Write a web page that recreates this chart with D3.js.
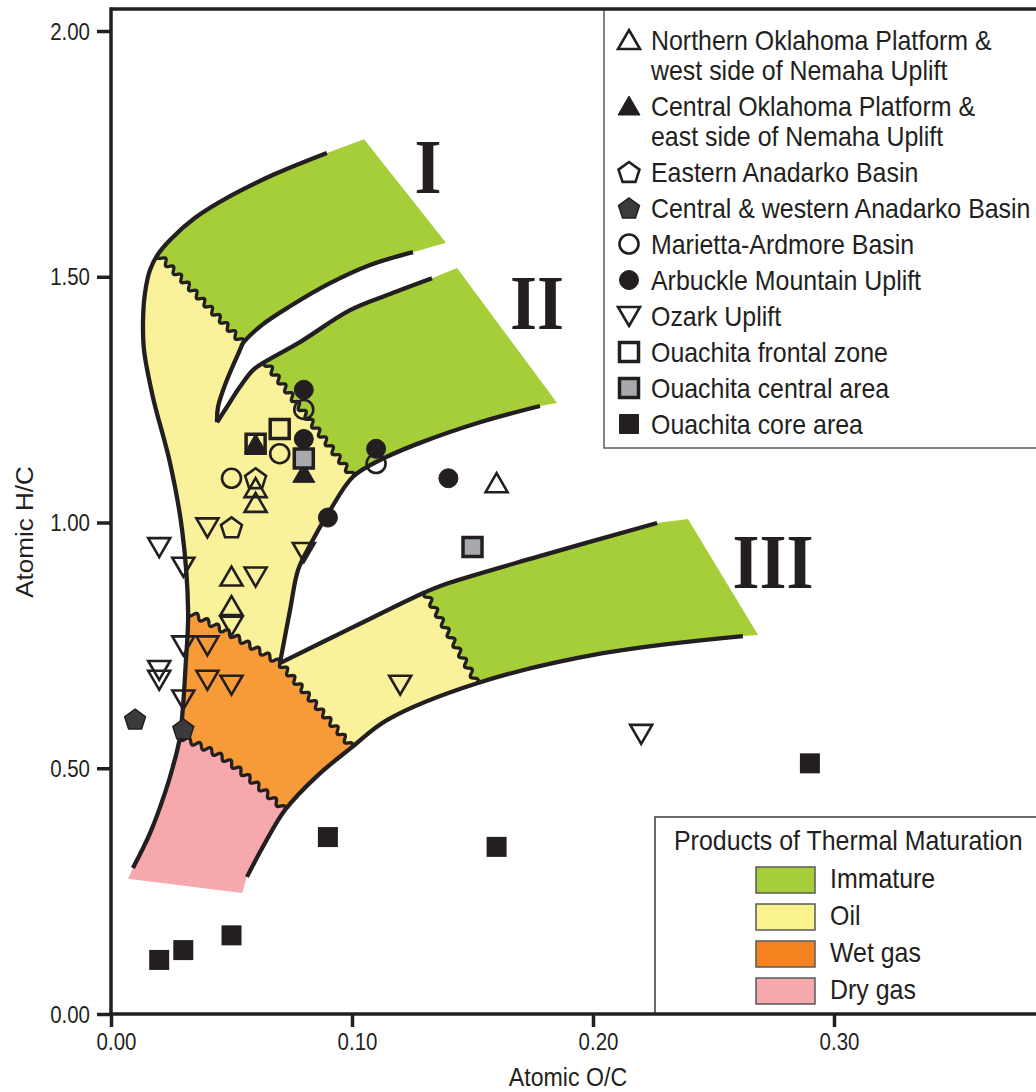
<!DOCTYPE html>
<html>
<head>
<meta charset="utf-8">
<script src="https://cdn.jsdelivr.net/npm/d3@7"></script>
<style>
body { margin: 0; background: #fff; }
</style>
</head>
<body>
<svg id="chart" width="1036" height="1092"></svg>
<script>
// samples: [atomic O/C, atomic H/C]
const northOK = [[0.16, 1.08], [0.06, 1.07], [0.06, 1.04], [0.05, 0.89], [0.05, 0.83]];
const centralOK = [[0.06, 1.16], [0.08, 1.10]];
const eastAnadarko = [[0.06, 1.09], [0.05, 0.99]];
const westAnadarko = [[0.01, 0.60], [0.03, 0.58]];
const mariettaArdmore = [[0.05, 1.09], [0.07, 1.14], [0.08, 1.23], [0.11, 1.12]];
const arbuckle = [[0.08, 1.27], [0.08, 1.17], [0.11, 1.15], [0.09, 1.01], [0.14, 1.09]];
const ozark = [[0.02, 0.95], [0.04, 0.99], [0.03, 0.91], [0.08, 0.94], [0.06, 0.89], [0.05, 0.79],
  [0.03, 0.75], [0.04, 0.75], [0.02, 0.70], [0.02, 0.68], [0.04, 0.68], [0.05, 0.67], [0.03, 0.64],
  [0.12, 0.67], [0.22, 0.57]];
const frontalZone = [[0.06, 1.16], [0.07, 1.19]];
const centralArea = [[0.08, 1.13], [0.15, 0.95]];
const coreArea = [[0.29, 0.51], [0.16, 0.34], [0.09, 0.36], [0.05, 0.16], [0.03, 0.13], [0.02, 0.11]];

// maturation field outlines, same units
const wallOil = [[0.0195, 1.546], [0.0162, 1.514], [0.0141, 1.467], [0.0133, 1.412], [0.0137, 1.351],
  [0.0174, 1.255], [0.0245, 1.121], [0.0295, 0.985], [0.032, 0.818]];
const wallWet = [[0.032, 0.818], [0.0311, 0.72], [0.0286, 0.564]];
const wallDry = [[0.0286, 0.564], [0.0255, 0.50], [0.0224, 0.45], [0.0162, 0.368], [0.0091, 0.297]];
const typeITop = [[0.0195, 1.546], [0.0245, 1.575], [0.0349, 1.620], [0.0494, 1.664], [0.068, 1.709], [0.0896, 1.752]];
const typeIEnd = [[0.105, 1.780], [0.139, 1.569]];
const typeIBottom = [[0.1253, 1.550], [0.1075, 1.524], [0.0909, 1.487], [0.0743, 1.440], [0.0627, 1.402], [0.0548, 1.365]];
const sliverLeft = [[0.0548, 1.365], [0.0535, 1.351], [0.0481, 1.290], [0.0444, 1.235], [0.044, 1.204]];
const typeIITopOil = [[0.044, 1.204], [0.0481, 1.235], [0.0535, 1.276], [0.0589, 1.310], [0.0639, 1.327]];
const typeIITopImm = [[0.0639, 1.327], [0.0784, 1.367], [0.0992, 1.432], [0.1158, 1.465], [0.1332, 1.497]];
const typeIIEnd = [[0.1436, 1.518], [0.1851, 1.243]];
const typeIIBottomImm = [[0.178, 1.237], [0.1531, 1.204], [0.1282, 1.162], [0.1116, 1.127], [0.1004, 1.093]];
const typeIIBottomOil = [[0.1004, 1.093], [0.0909, 1.025], [0.0826, 0.954], [0.0776, 0.903], [0.0743, 0.822], [0.0701, 0.714]];
const typeIIITopOil = [[0.0701, 0.714], [0.1, 0.786], [0.1303, 0.858]];
const typeIIITopImm = [[0.1303, 0.858], [0.1378, 0.873], [0.1768, 0.930], [0.2266, 0.999]];
const typeIIIEnd = [[0.2394, 1.007], [0.2685, 0.771]];
const typeIIIBottomImm = [[0.2622, 0.769], [0.2041, 0.734], [0.1519, 0.673]];
const typeIIIBottomOil = [[0.1519, 0.673], [0.1145, 0.598], [0.1, 0.543]];
const typeIIIBottomWet = [[0.1, 0.543], [0.0859, 0.486], [0.0722, 0.415]];
const typeIIIBottomDry = [[0.0722, 0.415], [0.0639, 0.348], [0.0564, 0.279]];
const dryEnd = [[0.0544, 0.246], [0.0071, 0.275]];
const waveI = [[0.0195, 1.546], [0.0548, 1.365]];
const waveII = [[0.0639, 1.327], [0.1004, 1.093]];
const waveIII = [[0.1303, 0.858], [0.1519, 0.673]];
const waveOilWet = [[0.032, 0.818], [0.0481, 0.777], [0.0701, 0.714]];
const waveIIIOilWet = [[0.0701, 0.714], [0.1, 0.543]];
const waveWetDry = [[0.0286, 0.564], [0.0465, 0.521], [0.0722, 0.415]];

const xTicks = [0, 0.1, 0.2, 0.3];
const yTicks = [0, 0.5, 1, 1.5, 2];
const legendLabels = [
  ["Northern Oklahoma Platform &", "west side of Nemaha Uplift"],
  ["Central Oklahoma Platform &", "east side of Nemaha Uplift"],
  ["Eastern Anadarko Basin"],
  ["Central & western Anadarko Basin"],
  ["Marietta-Ardmore Basin"],
  ["Arbuckle Mountain Uplift"],
  ["Ozark Uplift"],
  ["Ouachita frontal zone"],
  ["Ouachita central area"],
  ["Ouachita core area"]
];
const zoneNames = ["Immature", "Oil", "Wet gas", "Dry gas"];
const kerogenNames = ["I", "II", "III"];
const kerogenAt = [[0.1315, 1.670], [0.1768, 1.394], [0.2747, 0.867]];

const INK = "#231f20";
const FONT = "'Liberation Sans', Arial, Helvetica, sans-serif";
const SQ = 0.89; // the lettering is set a bit narrow
const green = "#a6ce39", yellow = "#f9f29b", orange = "#f79a38", pink = "#f6a8ad";
const swatchColors = ["#a6ce39", "#fbf38e", "#f5821f", "#f6a8ad"];

const svg = d3.select("#chart").attr("font-family", FONT);
const x = d3.scaleLinear().domain([0, 0.3]).range([111, 834]);
const y = d3.scaleLinear().domain([0, 2]).range([1014, 31]);

const smooth = d3.line().x(d => x(d[0])).y(d => y(d[1])).curve(d3.curveCatmullRom.alpha(0.5));
const poly = d3.line();
const rev = a => a.slice().reverse();
const px = pts => pts.map(d => [x(d[0]), y(d[1])]);

function sample(pts, step) {
  const p = svg.append("path").attr("d", smooth(pts));
  const node = p.node();
  const L = node.getTotalLength();
  const n = Math.max(1, Math.ceil(L / step));
  const out = d3.range(n + 1).map(i => {
    const q = node.getPointAtLength(L * i / n);
    return [q.x, q.y];
  });
  p.remove();
  return out;
}

function wavy(pts) {
  const base = sample(pts, 0.5);
  const s = [0];
  for (let i = 1; i < base.length; i++)
    s.push(s[i - 1] + Math.hypot(base[i][0] - base[i - 1][0], base[i][1] - base[i - 1][1]));
  const L = s[s.length - 1];
  const n = Math.max(1, Math.round(L / 11.5));
  const k = 2 * Math.PI * n / L;
  return base.map((p, i) => {
    const a = base[Math.max(0, i - 1)], b = base[Math.min(base.length - 1, i + 1)];
    const dx = b[0] - a[0], dy = b[1] - a[1], len = Math.hypot(dx, dy) || 1;
    const off = 2.7 * Math.sin(k * s[i]);
    return [p[0] - dy / len * off, p[1] + dx / len * off];
  });
}

const wI = wavy(waveI), wII = wavy(waveII), wIII = wavy(waveIII);
const wOW = wavy(waveOilWet), wIIIOW = wavy(waveIIIOilWet), wWD = wavy(waveWetDry);
const seg = pts => sample(pts, 2);

const fills = [
  { c: green, pts: [...seg(typeITop), ...px(typeIEnd), ...seg(typeIBottom), ...rev(wI)] },
  { c: yellow, pts: [...seg(wallOil), ...wOW, ...rev(seg(typeIIBottomOil)), ...rev(wII),
      ...rev(seg(typeIITopOil)), ...rev(seg(sliverLeft)), ...rev(wI)] },
  { c: green, pts: [...seg(typeIITopImm), ...px(typeIIEnd), ...seg(typeIIBottomImm), ...rev(wII)] },
  { c: yellow, pts: [...seg(typeIIITopOil), ...wIII, ...seg(typeIIIBottomOil), ...rev(wIIIOW)] },
  { c: green, pts: [...seg(typeIIITopImm), ...px(typeIIIEnd), ...seg(typeIIIBottomImm), ...rev(wIII)] },
  { c: orange, pts: [...wOW, ...wIIIOW, ...seg(typeIIIBottomWet), ...rev(wWD), ...rev(seg(wallWet))] },
  { c: pink, pts: [...wWD, ...seg(typeIIIBottomDry), ...px(dryEnd), ...rev(seg(wallDry))] }
];

const leftWall = [...wallOil, ...wallWet.slice(1), ...wallDry.slice(1)];
const outlines = [
  [...rev(leftWall), ...typeITop.slice(1)],
  [...typeIBottom, ...sliverLeft.slice(1)],
  [...typeIITopOil, ...typeIITopImm.slice(1)],
  [...typeIIBottomImm, ...typeIIBottomOil.slice(1)],
  [...typeIIITopOil, ...typeIIITopImm.slice(1)],
  [...typeIIIBottomImm, ...typeIIIBottomOil.slice(1), ...typeIIIBottomWet.slice(1), ...typeIIIBottomDry.slice(1)]
];

const fields = svg.append("g");
fields.selectAll("path.zone").data(fills).join("path")
  .attr("class", "zone")
  .attr("d", d => poly(d.pts) + "Z")
  .attr("fill", d => d.c);
fields.selectAll("path.edge").data(outlines).join("path")
  .attr("class", "edge")
  .attr("d", smooth)
  .attr("fill", "none")
  .attr("stroke", INK)
  .attr("stroke-width", 4.3);
fields.selectAll("path.wave").data([wI, wII, wIII, wOW, wIIIOW, wWD]).join("path")
  .attr("class", "wave")
  .attr("d", poly)
  .attr("fill", "none")
  .attr("stroke", INK)
  .attr("stroke-width", 3.3)
  .attr("stroke-linejoin", "round");

// kerogen type numerals
svg.append("g").selectAll("text").data(kerogenNames).join("text")
  .attr("transform", (d, i) => `translate(${x(kerogenAt[i][0])},${y(kerogenAt[i][1])}) scale(${SQ},1)`)
  .attr("text-anchor", "middle")
  .attr("font-family", "'Liberation Serif', 'Times New Roman', serif")
  .attr("font-weight", "bold")
  .attr("font-size", 78)
  .attr("fill", INK)
  .text(d => d);

// markers
const pent = d3.range(5).map(i => {
  const a = -Math.PI / 2 + i * 2 * Math.PI / 5;
  return [11 * Math.cos(a), 11 * Math.sin(a) + 1];
});
const shapes = {
  triUp: "M0,-10L11,9L-11,9Z",
  triDown: "M0,10L11,-9L-11,-9Z",
  square: "M-9.5,-9.5h19v19h-19Z",
  block: "M-10,-10h20v20h-20Z",
  circle: d3.symbol(d3.symbolCircle, Math.PI * 9.5 * 9.5)(),
  pent: "M" + pent.join("L") + "Z"
};
const series = [
  { label: legendLabels[0], data: northOK, shape: "triUp", fill: "none", stroke: INK, sw: 2.6 },
  { label: legendLabels[1], data: centralOK, shape: "triUp", fill: INK, stroke: INK, sw: 1 },
  { label: legendLabels[2], data: eastAnadarko, shape: "pent", fill: "none", stroke: INK, sw: 2.6 },
  { label: legendLabels[3], data: westAnadarko, shape: "pent", fill: "#3b3b3c", stroke: INK, sw: 1.5 },
  { label: legendLabels[4], data: mariettaArdmore, shape: "circle", fill: "none", stroke: INK, sw: 2.6 },
  { label: legendLabels[5], data: arbuckle, shape: "circle", fill: INK, stroke: INK, sw: 1 },
  { label: legendLabels[6], data: ozark, shape: "triDown", fill: "none", stroke: INK, sw: 2.6 },
  { label: legendLabels[7], data: frontalZone, shape: "square", fill: "none", stroke: INK, sw: 3.5 },
  { label: legendLabels[8], data: centralArea, shape: "square", fill: "#a7a9ac", stroke: INK, sw: 3.5 },
  { label: legendLabels[9], data: coreArea, shape: "block", fill: INK, stroke: "none", sw: 0 }
];

const marks = svg.append("g");
series.forEach(s => {
  marks.append("g").selectAll("path").data(s.data).join("path")
    .attr("transform", d => `translate(${x(d[0])},${y(d[1])})`)
    .attr("d", shapes[s.shape])
    .attr("fill", s.fill)
    .attr("stroke", s.stroke)
    .attr("stroke-width", s.sw)
    .attr("stroke-linejoin", "miter");
});

function label(g, str, tx, ty, size, anchor) {
  return g.append("text")
    .attr("transform", `translate(${tx},${ty}) scale(${SQ},1)`)
    .attr("text-anchor", anchor || "start")
    .attr("font-size", size)
    .attr("fill", INK)
    .text(str);
}

// sample legend
const leg = svg.append("g");
leg.append("rect").attr("x", 604).attr("y", 9).attr("width", 460).attr("height", 439)
  .attr("fill", "#fff").attr("stroke", "#58595b").attr("stroke-width", 1.5);
let base = 50;
series.forEach(s => {
  leg.append("path")
    .attr("transform", `translate(629,${base - 10})`)
    .attr("d", shapes[s.shape === "block" ? "square" : s.shape])
    .attr("fill", s.fill === "none" ? "#fff" : s.fill)
    .attr("stroke", s.shape === "block" ? INK : s.stroke)
    .attr("stroke-width", s.shape === "block" ? 1 : s.sw);
  s.label.forEach((line, i) => label(leg, line, 651, base + 30 * i, 28));
  base += 36 + 30 * (s.label.length - 1);
});

// maturation legend
const leg2 = svg.append("g");
leg2.append("rect").attr("x", 655).attr("y", 817).attr("width", 420).attr("height", 197)
  .attr("fill", "#fff").attr("stroke", "#3a3a3a").attr("stroke-width", 1.5);
label(leg2, "Products of Thermal Maturation", 674, 850, 28);
zoneNames.forEach((name, i) => {
  leg2.append("rect").attr("x", 756).attr("y", 867 + 37 * i).attr("width", 59).attr("height", 26)
    .attr("fill", swatchColors[i]).attr("stroke", "#58595b").attr("stroke-width", 1.5);
  label(leg2, name, 830, 888 + 37 * i, 28);
});

// frame and axes
const frame = svg.append("g").attr("stroke", INK).attr("stroke-width", 3.5);
frame.append("line").attr("x1", x(0)).attr("x2", 1036).attr("y1", 9).attr("y2", 9);
frame.append("line").attr("x1", x(0)).attr("x2", x(0)).attr("y1", 7.25).attr("y2", y(0));
frame.append("line").attr("x1", x(0) - 1.75).attr("x2", 1036).attr("y1", y(0)).attr("y2", y(0));

const gy = svg.append("g").attr("transform", `translate(${x(0)},0)`)
  .call(d3.axisLeft(y).tickValues(yTicks).tickFormat(d3.format(".2f")).tickSize(14).tickSizeOuter(0));
const gx = svg.append("g").attr("transform", `translate(0,${y(0)})`)
  .call(d3.axisBottom(x).tickValues(xTicks).tickFormat(d3.format(".2f")).tickSize(13).tickSizeOuter(0));
[gy, gx].forEach(g => {
  g.attr("font-family", FONT).attr("font-size", 23);
  g.select(".domain").remove();
  g.selectAll(".tick line").attr("stroke", INK).attr("stroke-width", 3.5);
  g.selectAll(".tick text").attr("fill", INK).attr("x", null).attr("y", null).attr("dy", null);
});
gy.selectAll(".tick text").attr("text-anchor", "end").attr("transform", `translate(-21,8) scale(${SQ},1)`);
gx.selectAll(".tick text").attr("text-anchor", "middle").attr("transform", `translate(5,36) scale(${SQ},1)`);

label(svg, "Atomic O/C", 568, 1086, 26, "middle");
svg.append("text")
  .attr("transform", `translate(33,532) scale(${SQ},1) rotate(-90)`)
  .attr("text-anchor", "middle")
  .attr("font-size", 26)
  .attr("fill", INK)
  .text("Atomic H/C");
</script>
</body>
</html>
